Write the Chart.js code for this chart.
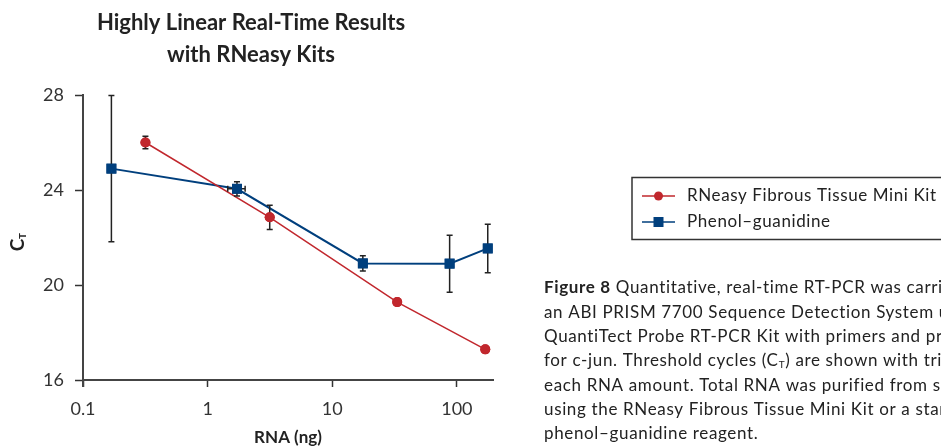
<!DOCTYPE html>
<html>
<head>
<meta charset="utf-8">
<script src="https://cdn.jsdelivr.net/npm/chart.js@4"></script>
<style>
  html, body { margin: 0; padding: 0; background: #fff; overflow: hidden; }
  #wrap { position: relative; width: 941px; height: 448px; }
</style>
</head>
<body>
<div id="wrap"><canvas id="ctChart" width="941" height="448"></canvas></div>
<script>
// values
const rneasyX = [0.317, 3.15, 33.2, 169];
const rneasyY = [26.0, 22.85, 19.28, 17.29];
const rneasyErr = [0.26, 0.51, 0, 0];

const phenolX = [0.169, 1.72, 17.6, 87.5, 177];
const phenolY = [24.9, 24.05, 20.91, 20.9, 21.54];
const phenolErr = [3.08, 0.3, 0.32, 1.2, 1.02];
const phenolXRange = [null, [1.45, 2.0], null, null, null];

const xTicks = [0.1, 1, 10, 100];
const yTicks = [16, 20, 24, 28];

const titleLines = ['Highly Linear Real-Time Results', 'with RNeasy Kits'];
const legendLabels = ['RNeasy Fibrous Tissue Mini Kit', 'Phenol\u2013guanidine'];
// caption segments: [text, style] with style b = bold, n = normal, s = subscript
const captionLines = [
  [['Figure 8', 'b'], [' Quantitative, real-time RT-PCR was carried out on', 'n']],
  [['an ABI PRISM 7700 Sequence Detection System using the', 'n']],
  [['QuantiTect Probe RT-PCR Kit with primers and probe specific', 'n']],
  [['for c-jun. Threshold cycles (C', 'n'], ['T', 's'], [') are shown with triplicates for', 'n']],
  [['each RNA amount. Total RNA was purified from skeletal muscle', 'n']],
  [['using the RNeasy Fibrous Tissue Mini Kit or a standard', 'n']],
  [['phenol\u2013guanidine reagent.', 'n']]
];

const RED = '#c1272d';
const BLUE = '#003f7d';
const FONT = 'Lato, "Noto Sans", sans-serif';

const toPoints = (xs, ys) => xs.map((x, i) => ({ x: x, y: ys[i] }));

const extras = {
  id: 'extras',
  afterDatasetsDraw(chart) {
    const { ctx, scales } = chart;
    const xs = scales.x, ys = scales.y;
    ctx.save();
    ctx.strokeStyle = '#222';
    ctx.lineWidth = 1.5;
    const cap = 3;
    const vbar = (x, y, e) => {
      if (!e) return;
      const px = xs.getPixelForValue(x);
      const top = ys.getPixelForValue(y + e);
      const bot = ys.getPixelForValue(y - e);
      ctx.beginPath();
      ctx.moveTo(px, top); ctx.lineTo(px, bot);
      ctx.moveTo(px - cap, top); ctx.lineTo(px + cap, top);
      ctx.moveTo(px - cap, bot); ctx.lineTo(px + cap, bot);
      ctx.stroke();
    };
    const hbar = (r, y) => {
      if (!r) return;
      const py = ys.getPixelForValue(y);
      const l = xs.getPixelForValue(r[0]);
      const h = xs.getPixelForValue(r[1]);
      ctx.beginPath();
      ctx.moveTo(l, py); ctx.lineTo(h, py);
      ctx.moveTo(l, py - cap); ctx.lineTo(l, py + cap);
      ctx.moveTo(h, py - cap); ctx.lineTo(h, py + cap);
      ctx.stroke();
    };
    rneasyX.forEach((x, i) => vbar(x, rneasyY[i], rneasyErr[i]));
    phenolX.forEach((x, i) => { vbar(x, phenolY[i], phenolErr[i]); hbar(phenolXRange[i], phenolY[i]); });
    ctx.restore();
    // markers back on top of the error bars
    chart.getSortedVisibleDatasetMetas().forEach(meta => {
      meta.data.forEach(pt => pt.draw(ctx, chart.chartArea));
    });
  },
  afterDraw(chart) {
    const ctx = chart.ctx;
    ctx.save();
    ctx.fillStyle = '#222';
    // y axis extends a little below the x axis
    ctx.strokeStyle = '#444';
    ctx.lineWidth = 2;
    ctx.beginPath();
    ctx.moveTo(chart.chartArea.left, chart.chartArea.bottom);
    ctx.lineTo(chart.chartArea.left, chart.chartArea.bottom + 7);
    ctx.stroke();

    // title
    ctx.font = 'bold 22px ' + FONT;
    ctx.textAlign = 'center';
    ctx.textBaseline = 'alphabetic';
    ctx.fillText(titleLines[0], 251, 30);
    ctx.fillText(titleLines[1], 251, 62);

    // y axis title C_T
    ctx.save();
    ctx.translate(18, 245);
    ctx.rotate(-Math.PI / 2);
    ctx.textBaseline = 'middle';
    ctx.font = 'bold 19px ' + FONT;
    ctx.textAlign = 'center';
    ctx.fillText('C', 0, 0);
    ctx.font = 'bold 10px ' + FONT;
    ctx.textAlign = 'left';
    ctx.fillText('T', 6, 5);
    ctx.restore();

    // legend
    ctx.strokeStyle = '#333';
    ctx.lineWidth = 1.5;
    ctx.strokeRect(632, 177.5, 330, 62);
    const items = [[RED, 'circle', 196], [BLUE, 'rect', 222]];
    ctx.letterSpacing = '0.6px';
    items.forEach((it, i) => {
      ctx.strokeStyle = it[0];
      ctx.fillStyle = it[0];
      ctx.lineWidth = 1.5;
      ctx.beginPath(); ctx.moveTo(642, it[2]); ctx.lineTo(675, it[2]); ctx.stroke();
      if (it[1] === 'circle') {
        ctx.beginPath(); ctx.arc(658.5, it[2], 4.5, 0, Math.PI * 2); ctx.fill();
      } else {
        ctx.fillRect(653.5, it[2] - 5, 10, 10);
      }
      ctx.fillStyle = '#222';
      ctx.font = '17px ' + FONT;
      ctx.textAlign = 'left';
      ctx.textBaseline = 'middle';
      ctx.fillText(legendLabels[i], 687, it[2]);
    });

    // caption
    ctx.textBaseline = 'middle';
    ctx.letterSpacing = '0.65px';
    captionLines.forEach((ln, i) => {
      let x = 544;
      const y = 288 + i * 24.3;
      ln.forEach(seg => {
        let yy = y;
        if (seg[1] === 'b') ctx.font = 'bold 17px ' + FONT;
        else if (seg[1] === 's') { ctx.font = '10px ' + FONT; yy = y + 4; }
        else ctx.font = '17px ' + FONT;
        ctx.fillText(seg[0], x, yy);
        x += ctx.measureText(seg[0]).width;
      });
    });
    ctx.restore();
  }
};

new Chart(document.getElementById('ctChart'), {
  type: 'line',
  data: {
    datasets: [
      {
        label: legendLabels[0],
        data: toPoints(rneasyX, rneasyY),
        borderColor: RED,
        backgroundColor: RED,
        borderWidth: 1.5,
        pointStyle: 'circle',
        pointRadius: 5,
        pointHoverRadius: 5,
        pointBorderWidth: 0
      },
      {
        label: legendLabels[1],
        data: toPoints(phenolX, phenolY),
        borderColor: BLUE,
        backgroundColor: BLUE,
        borderWidth: 2,
        pointStyle: 'rect',
        pointRadius: 7,
        pointHoverRadius: 7,
        pointBorderWidth: 0
      }
    ]
  },
  options: {
    responsive: false,
    animation: false,
    layout: { padding: { left: 0, right: 448, top: 95, bottom: 0 } },
    plugins: {
      legend: { display: false },
      title: { display: false },
      tooltip: { enabled: false }
    },
    scales: {
      x: {
        type: 'logarithmic',
        min: 0.1,
        max: 195,
        afterBuildTicks: (s) => { s.ticks = xTicks.map(v => ({ value: v })); },
        afterFit: (s) => { s.height = 68; },
        ticks: {
          color: '#333',
          font: { family: FONT, size: 18 },
          padding: 11,
          maxRotation: 0,
          callback: (v) => String(v)
        },
        grid: { drawOnChartArea: false, tickLength: 7, tickColor: '#333', tickWidth: 1.5 },
        border: { color: '#444', width: 2 },
        title: {
          display: true,
          text: 'RNA (ng)',
          color: '#222',
          font: { family: FONT, size: 17, weight: 'bold' },
          padding: { top: 0, bottom: 0 }
        }
      },
      y: {
        min: 16,
        max: 28,
        afterBuildTicks: (s) => { s.ticks = yTicks.map(v => ({ value: v })); },
        afterFit: (s) => { s.width = 83; },
        ticks: {
          color: '#333',
          font: { family: FONT, size: 18 },
          padding: 11
        },
        grid: { drawOnChartArea: false, tickLength: 8, tickColor: '#333', tickWidth: 1.5 },
        border: { color: '#444', width: 2 }
      }
    }
  },
  plugins: [extras]
});
</script>
</body>
</html>
